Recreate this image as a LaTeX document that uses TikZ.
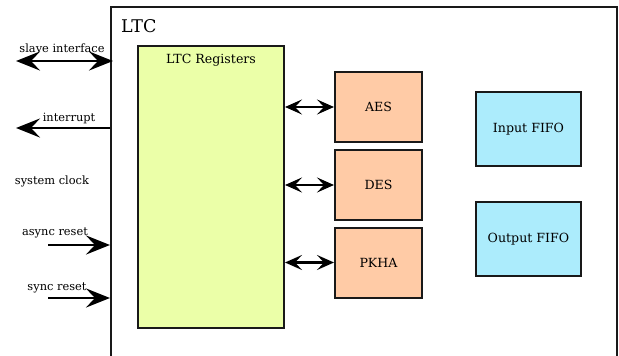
\documentclass[tikz,border=0pt]{standalone}
\usepackage{fontspec}
\setmainfont{DejaVu Serif}
\usetikzlibrary{arrows.meta}
\definecolor{regfill}{HTML}{EBFFA8}
\definecolor{algfill}{HTML}{FFCBA6}
\definecolor{fifofill}{HTML}{ACECFC}
\begin{document}
\begin{tikzpicture}[x=1pt,y=-1pt,
  blk/.style={draw=black!90,line width=2pt,inner sep=0pt},
  lbl/.style={font=\fontsize{11.4}{13}\selectfont,inner sep=0pt},
  boxtxt/.style={font=\fontsize{12.6}{14}\selectfont},
  bighead/.tip={Stealth[length=24pt,width=19pt,inset=9pt]},
  smallhead/.tip={Stealth[length=17pt,width=15pt,inset=7pt]},
  bigarrow/.style={line width=2.8pt,-bighead},
  bigdbl/.style={line width=2.8pt,bighead-bighead},
  smalldbl/.style={line width=2.2pt,smallhead-smallhead}]
\path[use as bounding box] (0,0) rectangle (619,356);
% outer LTC block (bottom edge falls outside the page)
\node[blk,minimum width=506pt,minimum height=393pt] (ltc) at (364,203.5) {};
\node[inner sep=0pt,anchor=west,font=\fontsize{17.5}{20}\selectfont] (ltclbl) at (121,26) {LTC};
% registers
\node[blk,fill=regfill,minimum width=146pt,minimum height=282pt] (reg) at (211,187) {};
\node[boxtxt,inner sep=0pt] (reglbl) at (211,60) {LTC Registers};
% algorithm blocks
\node[blk,boxtxt,fill=algfill,minimum width=87pt,minimum height=70pt] (aes) at (378.5,107) {AES};
\node[blk,boxtxt,fill=algfill,minimum width=87pt,minimum height=70pt] (des) at (378.5,185) {DES};
\node[blk,boxtxt,fill=algfill,minimum width=87pt,minimum height=70pt] (pkha) at (378.5,262.5) {PKHA};
% FIFOs
\node[blk,boxtxt,fill=fifofill,minimum width=105pt,minimum height=74pt] (infifo) at (528.5,129) {Input FIFO};
\node[blk,boxtxt,fill=fifofill,minimum width=105pt,minimum height=74pt] (outfifo) at (528.5,239) {Output FIFO};
% register <-> algorithm connectors
\draw[smalldbl] (reg.east |- aes.west) -- (aes.west);
\draw[smalldbl] (reg.east |- des.west) -- (des.west);
\draw[smalldbl] (reg.east |- pkha.west) -- (pkha.west);
% left side signals
\coordinate (slv) at (16,61);
\coordinate (irq) at (16,128);
\coordinate (ares) at (48,245);
\coordinate (sres) at (48,298);
\draw[bigdbl] (slv) -- ([xshift=3pt]slv -| ltc.west);
\draw[bigarrow] (irq -| ltc.west) -- (irq);
\draw[bigarrow] (ares) -- (ares -| ltc.west);
\draw[bigarrow] (sres) -- (sres -| ltc.west);
\node[lbl] (slvlbl) at (62,48) {slave interface};
\node[lbl] (irqlbl) at (69,118) {interrupt};
\node[lbl] (clklbl) at (52,181) {system clock};
\node[lbl] (areslbl) at (55,233) {async reset};
\node[lbl] (sreslbl) at (57,288) {sync reset};
\end{tikzpicture}
\end{document}
